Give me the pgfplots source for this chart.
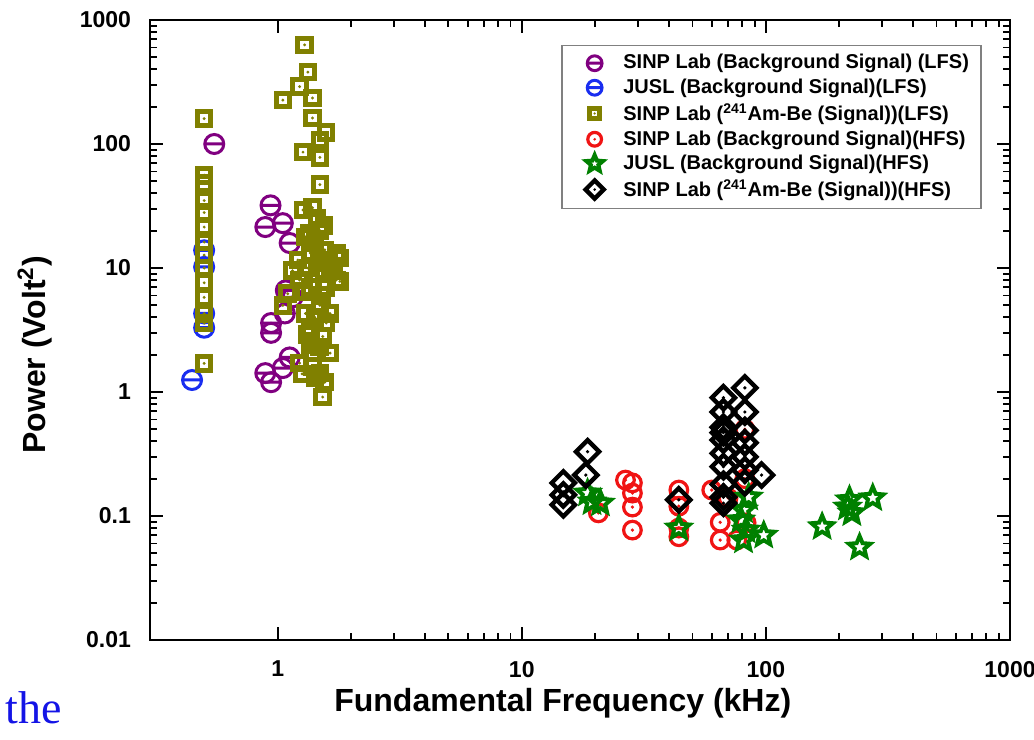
\documentclass[border=0pt]{standalone}
\usepackage{pgfplots}
\pgfplotsset{compat=1.18}
\usepackage{fontspec}
\setmainfont{Liberation Sans}
\newfontfamily\seriffont{Liberation Serif}
\usetikzlibrary{plotmarks}

\definecolor{cpurple}{RGB}{128,0,128}
\definecolor{cblue}{RGB}{25,45,240}
\definecolor{colive}{RGB}{128,128,0}
\definecolor{cred}{RGB}{240,20,20}
\definecolor{cgreen}{RGB}{0,128,0}
\definecolor{theblue}{RGB}{20,20,230}

\pgfdeclareplotmark{ominus}{%
  \pgfpathcircle{\pgfpointorigin}{\pgfplotmarksize}%
  \pgfpathmoveto{\pgfpoint{-\pgfplotmarksize}{0pt}}%
  \pgfpathlineto{\pgfpoint{\pgfplotmarksize}{0pt}}%
  \pgfusepathqstroke}
\pgfdeclareplotmark{odot}{%
  \pgfpathcircle{\pgfpointorigin}{\pgfplotmarksize}%
  \pgfusepathqstroke
  \pgfpathcircle{\pgfpointorigin}{0.9pt}%
  \pgfusepathqfill}
\pgfdeclareplotmark{sqdot}{%
  \pgfpathrectangle{\pgfpoint{-\pgfplotmarksize}{-\pgfplotmarksize}}{\pgfpoint{2\pgfplotmarksize}{2\pgfplotmarksize}}%
  \pgfusepathqstroke
  \pgfpathcircle{\pgfpointorigin}{0.8pt}%
  \pgfusepathqfill}
\pgfdeclareplotmark{diadot}{%
  \pgfpathmoveto{\pgfpoint{0pt}{\pgfplotmarksize}}%
  \pgfpathlineto{\pgfpoint{\pgfplotmarksize}{0pt}}%
  \pgfpathlineto{\pgfpoint{0pt}{-\pgfplotmarksize}}%
  \pgfpathlineto{\pgfpoint{-\pgfplotmarksize}{0pt}}%
  \pgfpathclose
  \pgfusepathqstroke
  \pgfpathcircle{\pgfpointorigin}{0.9pt}%
  \pgfusepathqfill}
\pgfdeclareplotmark{fstar}{%
  \pgfpathmoveto{\pgfpointpolar{90}{\pgfplotmarksize}}%
  \pgfpathlineto{\pgfpointpolar{126}{0.45\pgfplotmarksize}}%
  \pgfpathlineto{\pgfpointpolar{162}{\pgfplotmarksize}}%
  \pgfpathlineto{\pgfpointpolar{198}{0.45\pgfplotmarksize}}%
  \pgfpathlineto{\pgfpointpolar{234}{\pgfplotmarksize}}%
  \pgfpathlineto{\pgfpointpolar{270}{0.45\pgfplotmarksize}}%
  \pgfpathlineto{\pgfpointpolar{306}{\pgfplotmarksize}}%
  \pgfpathlineto{\pgfpointpolar{342}{0.45\pgfplotmarksize}}%
  \pgfpathlineto{\pgfpointpolar{18}{\pgfplotmarksize}}%
  \pgfpathlineto{\pgfpointpolar{54}{0.45\pgfplotmarksize}}%
  \pgfpathclose
  \pgfusepathqstroke}

\begin{document}
\begin{tikzpicture}
\begin{axis}[
  scale only axis,
  width=430pt, height=310pt,
  xmode=log, ymode=log,
  xmin=0.3, xmax=1000, ymin=0.01, ymax=1000,
  xtick={1,10,100,1000}, xticklabels={1,10,100,1000},
  ytick={0.01,0.1,1,10,100,1000}, yticklabels={0.01,0.1,1,10,100,1000},
  tick align=inside,
  major tick length=6.5pt, minor tick length=3.5pt,
  axis line style={line width=1pt},
  every tick/.style={black, line width=0.9pt},
  tick label style={font=\bfseries\fontsize{11.5}{13}\selectfont},
  xticklabel style={yshift=-7pt},
  yticklabel style={xshift=-6pt},
  xlabel={Fundamental Frequency (kHz)},
  ylabel={Power (Volt\textsuperscript{2})},
  every axis x label/.style={at={(axis description cs:0.48,-0.066)}, anchor=north,
    font=\bfseries\fontsize{16}{18}\selectfont},
  every axis y label/.style={at={(axis description cs:-0.1337,0.46)}, rotate=90, anchor=center,
    font=\bfseries\fontsize{16}{18}\selectfont},
  legend style={at={(0.967,0.960)}, anchor=north east, draw=gray, line width=0.7pt,
    font=\bfseries\fontsize{10}{12}\selectfont, row sep=-0.5pt,
    inner xsep=4pt, inner ysep=2.5pt},
  legend cell align=left,
  legend image code/.code={\path (0pt,0pt) (24pt,0pt); \draw[#1,every mark/.append style={scale=0.78}] plot coordinates {(12pt,0pt)};},
]
% SINP Lab background LFS
\addplot[only marks, color=cpurple, mark=ominus, mark size=4.75pt, mark options={line width=1.5pt, solid}] coordinates {
(0.55,100) (0.935,32) (0.89,21.4) (1.05,23) (1.12,15.9) (1.08,6.6) (1.15,5.8) (1.07,4.3)
(0.94,3.6) (0.94,3.0) (1.12,1.9) (1.05,1.56) (0.89,1.42) (0.94,1.2)
};
\addlegendentry{SINP Lab (Background Signal) (LFS)}
% JUSL background LFS
\addplot[only marks, color=cblue, mark=ominus, mark size=4.75pt, mark options={line width=1.5pt, solid}] coordinates {
(0.5,13.9) (0.5,10.2) (0.5,4.3) (0.5,3.3) (0.446,1.25)
};
\addlegendentry{JUSL (Background Signal)(LFS)}
% SINP Lab Am-Be LFS
\addplot[only marks, color=colive, mark=sqdot, mark size=3.4pt, mark options={line width=2.5pt, solid}] coordinates {
(0.5,160) (0.5,56) (0.5,48) (0.5,35) (0.5,28) (0.5,21.4) (0.5,16.2) (0.5,12.7) (0.5,10)
(0.5,7.6) (0.5,5.8) (0.5,4.3) (0.5,3.6) (0.5,1.7)
(1.29,630) (1.33,380) (1.23,290) (1.05,226) (1.39,235) (1.39,162) (1.58,124) (1.49,108)
(1.27,86) (1.49,78) (1.49,47) (1.39,30.6) (1.27,29.4) (1.49,20) (1.30,17.8) (1.56,14)
(1.74,13.2) (1.36,13.2) (1.21,11.6) (1.56,9.6) (1.74,8.0) (1.58,7.0) (1.36,7.0) (1.23,8.0)
(1.49,5.0) (1.05,5.0) (1.64,4.3) (1.30,4.3) (1.36,3.3) (1.53,2.8) (1.36,2.4) (1.39,2.06)
(1.64,2.06) (1.23,1.71) (1.49,1.42) (1.39,1.6) (1.53,0.91)
(1.45,25) (1.55,22) (1.35,19) (1.42,16) (1.62,11) (1.48,11.5) (1.33,10) (1.45,9) (1.70,9.5)
(1.28,6.5) (1.52,6) (1.42,4) (1.58,3.6) (1.32,2.9) (1.48,2.3) (1.56,1.2) (1.42,1.3) (1.26,1.4)
(1.80,12) (1.80,7.8) (1.15,9.5) (1.10,6.2)
};
\addlegendentry{SINP Lab (\textsuperscript{241}Am-Be (Signal))(LFS)}
% SINP Lab background HFS
\addplot[only marks, color=cred, mark=odot, mark size=4.4pt, mark options={line width=1.6pt, solid}] coordinates {
(26.6,0.195) (28.4,0.185) (28.4,0.153) (28.4,0.118) (28.4,0.077) (20.6,0.106)
(44,0.162) (44,0.12) (44,0.08) (44,0.068) (60,0.162) (65,0.089) (65,0.064) (76,0.064)
(83,0.088) (82,0.5) (82,0.2) (70,0.14)
};
\addlegendentry{SINP Lab (Background Signal)(HFS)}
% JUSL background HFS
\addplot[only marks, color=cgreen, mark=fstar, mark size=5.6pt, mark options={line width=2pt, solid}] coordinates {
(18.6,0.153) (19.4,0.13) (21,0.127) (44,0.08) (81,0.112) (79,0.093) (83,0.077) (81,0.064)
(98,0.07) (85,0.142) (170,0.082) (216,0.118) (225,0.106) (274,0.14) (242,0.056) (220,0.135)
};
\addlegendentry{JUSL (Background Signal)(HFS)}
% SINP Lab Am-Be HFS
\addplot[only marks, color=black, mark=diadot, mark size=5.8pt, mark options={line width=2.2pt, solid}] coordinates {
(14.8,0.148) (14.8,0.123) (14.8,0.185) (18.6,0.33) (18.3,0.214) (44,0.135)
(67,0.9) (67,0.69) (67,0.52) (67,0.47) (67,0.41) (67,0.32) (67,0.25) (67,0.18) (67,0.142) (67,0.127)
(82,1.08) (82,0.69) (82,0.49) (82,0.39) (82,0.30) (82,0.235) (82,0.185) (96,0.214)
};
\addlegendentry{SINP Lab (\textsuperscript{241}Am-Be (Signal))(HFS)}
\end{axis}
\node[anchor=base west, font=\seriffont\fontsize{23}{26}\selectfont, text=theblue, inner sep=0pt]
  at ([xshift=-72.5pt,yshift=-41.5pt]current axis.south west) {the};
\pgfresetboundingbox
\path[use as bounding box] ([xshift=-75pt,yshift=-49.5pt]current axis.south west) rectangle ([xshift=12pt,yshift=10pt]current axis.north east);
\end{tikzpicture}
\end{document}
